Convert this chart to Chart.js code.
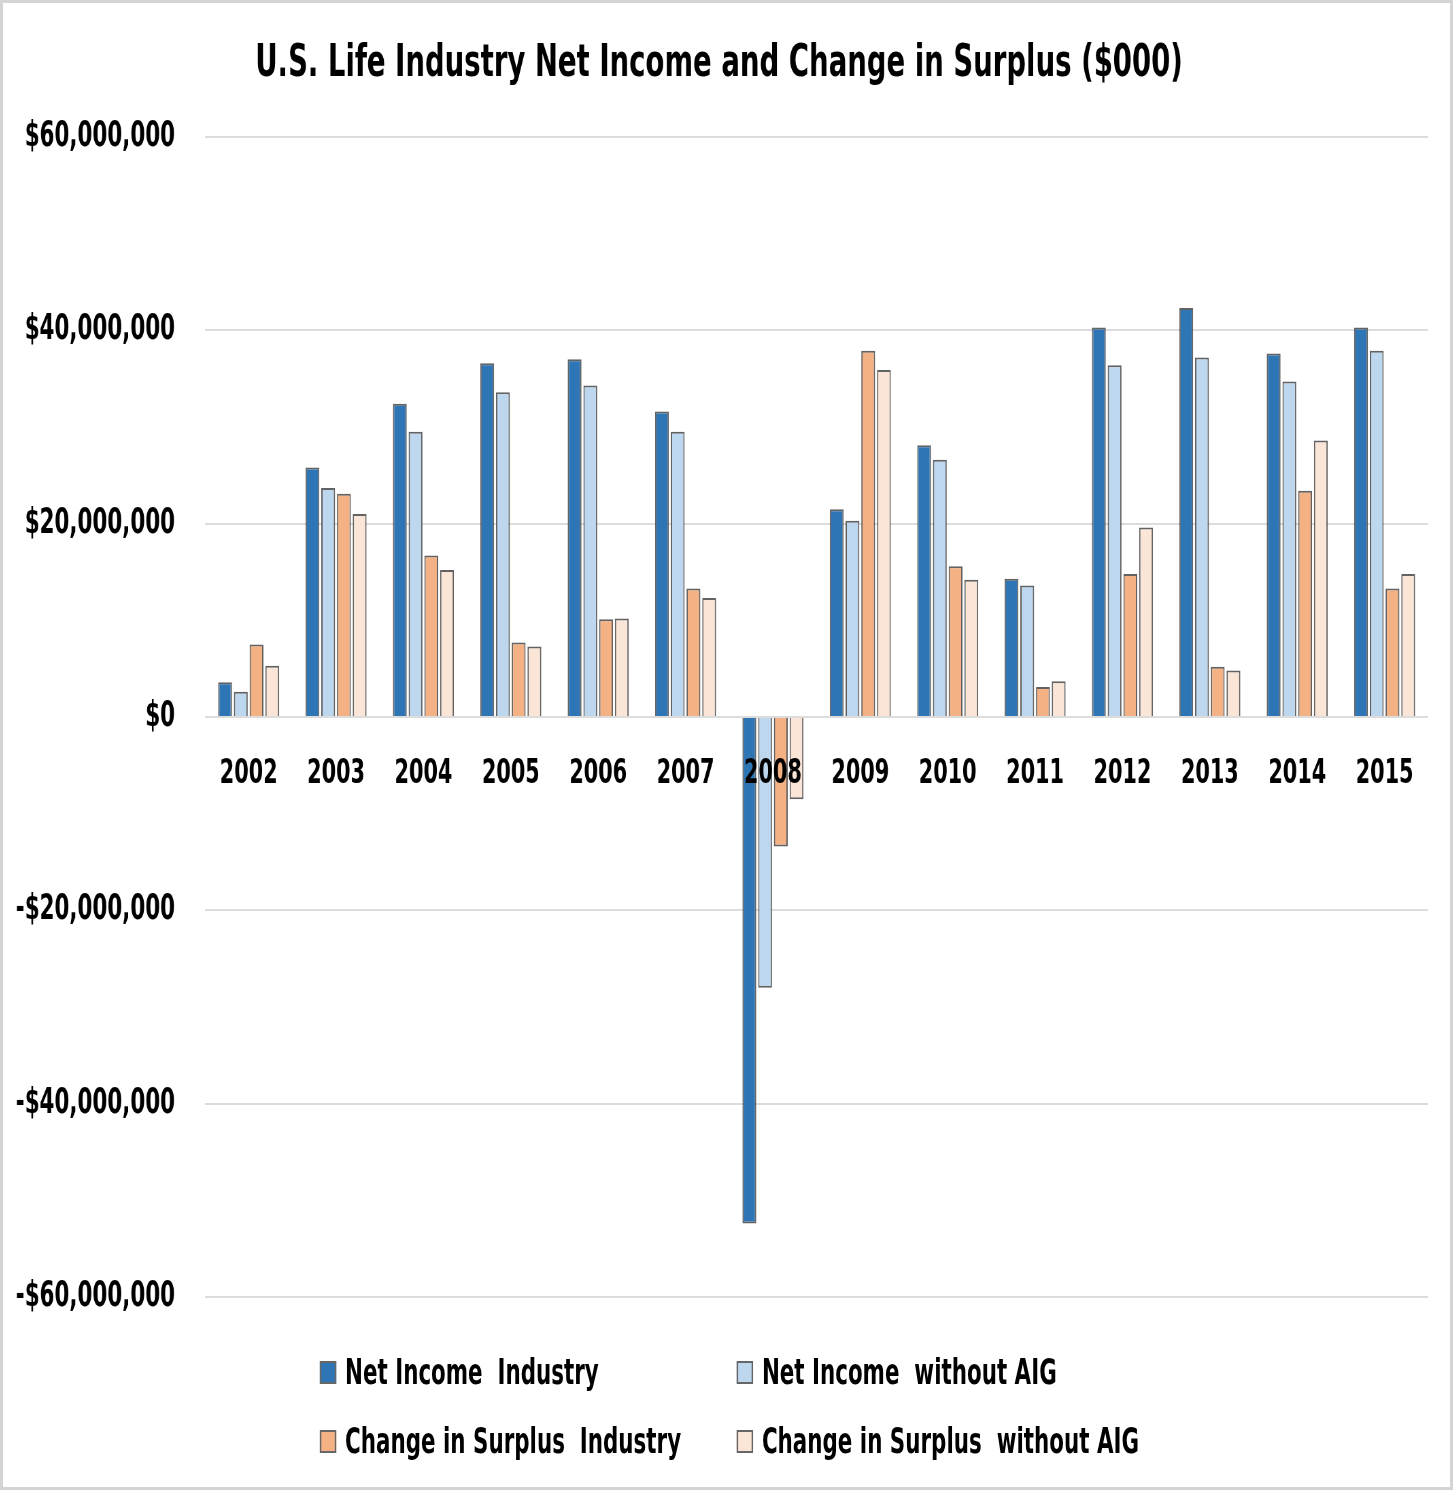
<!DOCTYPE html>
<html>
<head>
<meta charset="utf-8">
<script src="https://cdn.jsdelivr.net/npm/chart.js@4.4.0/dist/chart.umd.min.js"></script>
<style>
  html, body { margin: 0; padding: 0; background: #fff; }
  #frame {
    position: relative;
    width: 1453px; height: 1490px;
    box-sizing: border-box;
    border: 3px solid #d4d4d4;
    background: #fff;
    overflow: hidden;
  }
  /* The original picture is squeezed sideways; draw wide, then squeeze. */
  #stretch {
    position: absolute; left: 0; top: 0;
    width: 2128px; height: 1484px;
    transform: scaleX(0.68);
    transform-origin: 0 0;
  }
  #chart_box { position: absolute; left: 0; top: 0; width: 2128px; height: 1484px; }
  #legend {
    position: absolute; left: 0; top: 0; width: 100%; height: 100%;
    pointer-events: none;
    font-family: 'DejaVu Sans Condensed', 'DejaVu Sans', sans-serif;
    font-weight: bold; font-size: 35px; color: #000;
  }
  .item { position: absolute; display: flex; align-items: center; white-space: pre; height: 40px; }
  .swatch { width: 24px; height: 23px; box-sizing: border-box; border: 2px solid #666; margin-right: 13px; }
</style>
</head>
<body>
<div id="frame">
  <div id="stretch">
    <div id="chart_box"><canvas id="income_chart"></canvas></div>
    <div id="legend"></div>
  </div>
</div>
<script>
// Years on the x axis.
const years = ['2002', '2003', '2004', '2005', '2006', '2007', '2008',
  '2009', '2010', '2011', '2012', '2013', '2014', '2015'];

// Values in $000.
const net_income_industry = [3600000, 25800000, 32400000, 36600000, 37000000, 31600000, -52400000,
  21500000, 28100000, 14300000, 40300000, 42300000, 37600000, 40300000];
const net_income_no_aig = [2600000, 23700000, 29500000, 33600000, 34300000, 29500000, -28000000,
  20300000, 26600000, 13600000, 36400000, 37200000, 34700000, 37900000];
const surplus_industry = [7500000, 23100000, 16700000, 7700000, 10100000, 13300000, -13400000,
  37900000, 15600000, 3100000, 14800000, 5200000, 23400000, 13300000];
const surplus_no_aig = [5300000, 21000000, 15200000, 7300000, 10200000, 12300000, -8500000,
  35900000, 14200000, 3700000, 19600000, 4800000, 28600000, 14800000];

// Series labels (two spaces, as in the original legend).
const series_labels = ['Net Income  Industry', 'Net Income  without AIG',
  'Change in Surplus  Industry', 'Change in Surplus  without AIG'];

// Y axis tick values.
const y_ticks = [-60000000, -40000000, -20000000, 0, 20000000, 40000000, 60000000];

const colors = ['#2e75b6', '#bdd7ee', '#f4b183', '#fbe5d6'];

/**
 * Formats a value as $20,000,000 or -$20,000,000.
 */
function money(v) {
    return (v < 0 ? '-' : '') + '$' + Math.abs(v).toLocaleString('en-US');
}

Chart.defaults.font.family = "'DejaVu Sans Condensed', 'DejaVu Sans', sans-serif";
Chart.defaults.font.weight = 'bold';
Chart.defaults.color = '#000';

const series_values = [net_income_industry, net_income_no_aig, surplus_industry, surplus_no_aig];

const chart = new Chart(document.getElementById('income_chart'), {
    type: 'bar',
    data: {
        labels: years,
        datasets: series_values.map((vals, i) => ({
            label: series_labels[i],
            data: vals,
            backgroundColor: colors[i],
            borderColor: 'rgba(70, 70, 70, 0.85)',
            borderWidth: 2,
            categoryPercentage: 0.72,
            barPercentage: 0.88
        }))
    },
    options: {
        responsive: true,
        maintainAspectRatio: false,
        animation: false,
        layout: {
            padding: {left: 10, right: 32, top: 0, bottom: 190}
        },
        plugins: {
            legend: {display: false},
            tooltip: {enabled: false},
            title: {
                display: true,
                text: 'U.S. Life Industry Net Income and Change in Surplus ($000)',
                font: {size: 45, weight: 'bold'},
                color: '#000',
                padding: {top: 34, bottom: 46}
            }
        },
        scales: {
            x: {
                // Labels sit right under the zero line, drawn over the bars.
                position: {y: 0},
                grid: {display: false, drawTicks: false},
                border: {display: false},
                ticks: {font: {size: 34}, padding: 37, maxRotation: 0, z: 1}
            },
            y: {
                min: -60000000,
                max: 60000000,
                afterBuildTicks: (scale) => {
                    scale.ticks = y_ticks.map(v => ({value: v}));
                },
                afterFit: (scale) => { scale.width = 287; },
                grid: {color: '#dcdcdc', lineWidth: 2, drawTicks: false},
                border: {display: false},
                ticks: {font: {size: 35}, padding: 44, callback: (v) => money(v)}
            }
        }
    }
});

// Legend in two columns, built from the chart's datasets (unsqueezed coordinates).
const legend = document.getElementById('legend');
const spots = [[466, 1349], [1079, 1349], [466, 1418], [1079, 1418]];
chart.data.datasets.forEach((ds, i) => {
    const item = document.createElement('div');
    item.className = 'item';
    item.style.left = spots[i][0] + 'px';
    item.style.top = spots[i][1] + 'px';
    const sw = document.createElement('span');
    sw.className = 'swatch';
    sw.style.background = ds.backgroundColor;
    const tx = document.createElement('span');
    tx.textContent = ds.label;
    item.appendChild(sw);
    item.appendChild(tx);
    legend.appendChild(item);
});
</script>
</body>
</html>
